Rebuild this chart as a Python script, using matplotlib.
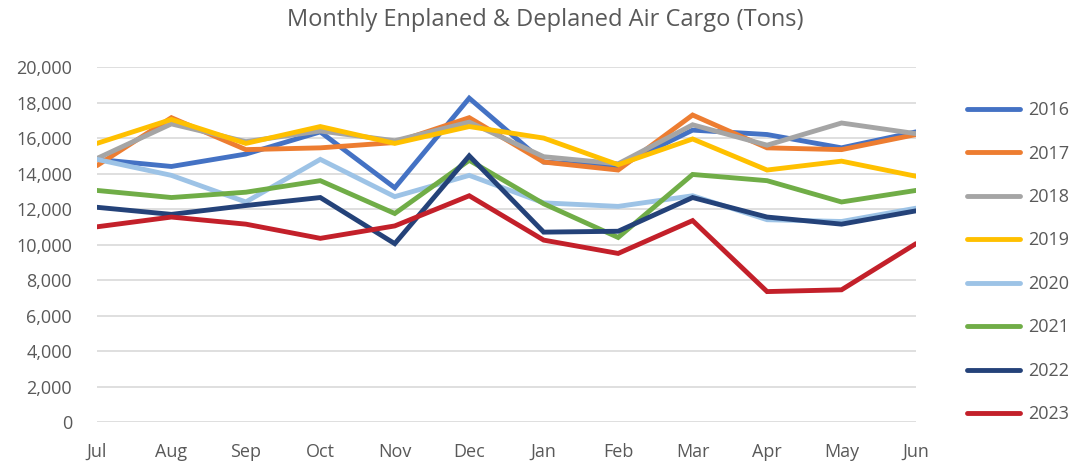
import matplotlib.pyplot as plt
from matplotlib.ticker import FuncFormatter

plt.rcParams["font.family"] = ["Open Sans", "DejaVu Sans"]

months = ["Jul", "Aug", "Sep", "Oct", "Nov", "Dec", "Jan", "Feb", "Mar", "Apr", "May", "Jun"]
years = ["2016", "2017", "2018", "2019", "2020", "2021", "2022", "2023"]

# monthly tons, Jul..Jun
tons_2016 = [14800, 14400, 15100, 16350, 13200, 18250, 14650, 14400, 16450, 16200, 15450, 16350]
tons_2017 = [14450, 17150, 15350, 15450, 15750, 17150, 14650, 14200, 17300, 15450, 15350, 16200]
tons_2018 = [14850, 16800, 15800, 16400, 15850, 16900, 14950, 14550, 16750, 15600, 16850, 16250]
tons_2019 = [15700, 17050, 15700, 16650, 15700, 16650, 16000, 14500, 15950, 14200, 14700, 13850]
tons_2020 = [14800, 13900, 12400, 14800, 12700, 13900, 12350, 12150, 12750, 11400, 11300, 12050]
tons_2021 = [13050, 12650, 12950, 13600, 11750, 14750, 12300, 10400, 13950, 13600, 12400, 13050]
tons_2022 = [12100, 11700, 12200, 12650, 10050, 15000, 10700, 10750, 12650, 11550, 11150, 11900]
tons_2023 = [11000, 11550, 11150, 10350, 11050, 12750, 10250, 9500, 11350, 7350, 7450, 10050]

series = [tons_2016, tons_2017, tons_2018, tons_2019, tons_2020, tons_2021, tons_2022, tons_2023]
colors = ["#4472C4", "#ED7D31", "#A5A5A5", "#FFC000", "#9DC3E6", "#70AD47", "#244279", "#C3202A"]

text_gray = "#595959"

fig = plt.figure(figsize=(10.77, 4.66), dpi=100)
ax = fig.add_axes([0.090, 0.0944, 0.7605, 0.7616])

x = list(range(len(months)))
for vals, col, yr in zip(series, colors, years):
    ax.plot(x, vals, color=col, lw=3.5, label=yr, solid_capstyle="round", solid_joinstyle="miter")

ax.set_xlim(0, len(months) - 1)
ax.set_ylim(0, 20000)
ax.set_yticks(range(0, 20001, 2000))
ax.yaxis.set_major_formatter(FuncFormatter(lambda v, p: f"{int(v):,}"))
ax.set_xticks(x)
ax.set_xticklabels(months)

ax.grid(axis="y", color="#D9D9D9", lw=1.2)
ax.set_axisbelow(True)
for s in ax.spines.values():
    s.set_visible(False)
ax.tick_params(axis="both", length=0, colors=text_gray, labelsize=13)
ax.tick_params(axis="x", pad=15)
ax.tick_params(axis="y", pad=18)

fig.suptitle("Monthly Enplaned & Deplaned Air Cargo (Tons)", x=0.5065, y=0.982,
             fontsize=17, color=text_gray)

leg = fig.legend(loc="upper left", bbox_to_anchor=(0.898, 0.783), frameon=False,
                 fontsize=13, labelcolor=text_gray, handlelength=2.9, borderpad=0,
                 borderaxespad=0, handletextpad=0.45, labelspacing=1.41)
for h in leg.get_lines():
    h.set_linewidth(3.5)

fig.savefig("out.png", dpi=100)
